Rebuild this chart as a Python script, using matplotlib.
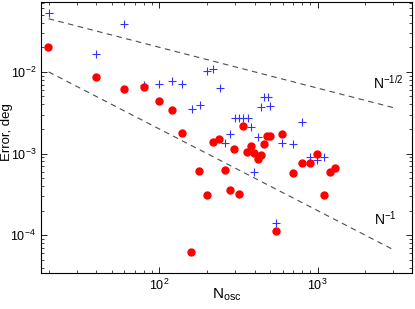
#!/usr/bin/env python
# error vs number of oscillations, log-log, with N^-1/2 and N^-1 guide lines
import numpy as np
import matplotlib
matplotlib.use("Agg")
import matplotlib.pyplot as plt

plt.rcParams['font.family'] = ['Liberation Sans', 'DejaVu Sans']
plt.rcParams['mathtext.fontset'] = 'custom'
plt.rcParams['mathtext.rm'] = 'Liberation Sans'
plt.rcParams['mathtext.default'] = 'regular'

# red circles
red_n = [19.8, 39.9, 59.9, 79.7, 100, 120, 140, 159, 179, 199, 219, 239, 259, 278,
         298, 317, 339, 358, 378, 398, 420, 438, 458, 481, 500, 545, 595, 701, 796,
         898, 994, 1096, 1191, 1292]
red_err = [0.0203, 0.00868, 0.00618, 0.00649, 0.00445, 0.00345, 0.0018, 6.3e-5, 6.1e-4,
           3.12e-4, 1.395e-3, 1.507e-3, 6.33e-4, 3.6e-4, 1.136e-3, 3.23e-4, 2.176e-3,
           1.058e-3, 1.236e-3, 1.029e-3, 8.68e-4, 9.72e-4, 1.319e-3, 1.639e-3, 1.663e-3,
           1.129e-4, 1.75e-3, 5.85e-4, 7.71e-4, 7.58e-4, 9.78e-4, 3.12e-4, 6.01e-4, 6.58e-4]

# blue crosses
blue_n = [20, 39.9, 59.9, 79.7, 100, 120, 140, 160, 180, 199, 219, 241, 260, 280, 301,
          319, 339, 362, 379, 398, 418, 441, 461, 482, 498, 545, 595, 696, 800, 897,
          994, 1088]
blue_err = [0.0519, 0.0166, 0.0388, 0.00693, 0.00718, 0.00769, 0.00707, 0.00349, 0.00397,
            0.0102, 0.0107, 0.00642, 1.365e-3, 1.72e-3, 2.69e-3, 2.69e-3, 2.69e-3, 2.69e-3,
            2.13e-3, 5.98e-4, 1.594e-3, 3.74e-3, 4.98e-3, 4.98e-3, 3.8e-3, 1.416e-4,
            1.365e-3, 1.3e-3, 2.42e-3, 9.19e-4, 8.44e-4, 9.19e-4]

# guide lines C*N^p
guide_n = np.array([20, 3000])
guide_c = 0.2

fig = plt.figure(figsize=(4.15, 3.09), dpi=100)
ax = fig.add_axes([0.0988, 0.1155, 0.894, 0.879])

ax.plot(guide_n, guide_c / np.sqrt(guide_n), ls=(0, (5, 4)), color='0.3', lw=0.8)
ax.plot(guide_n, guide_c / guide_n, ls=(0, (5, 4)), color='0.3', lw=0.8)

ax.plot(blue_n, blue_err, '+', color='#3333ff', ms=6, mew=0.8)
ax.plot(red_n, red_err, 'o', color='red', mec='red', ms=5)

ax.set_xscale('log')
ax.set_yscale('log')
ax.set_xlim(17.9, 3940)
ax.set_ylim(3.42e-5, 0.0723)

ax.tick_params(which='both', direction='in', top=True, right=True, labelsize=9)
ax.tick_params(which='major', length=4, width=0.6)
ax.tick_params(which='minor', length=2, width=0.5)
for s in ax.spines.values():
    s.set_linewidth(0.8)

ax.text(2780, 0.0073, r'$N^{-1/2}$', fontsize=10, ha='center', va='center')
ax.text(2660, 1.6e-4, r'$N^{-1}$', fontsize=10, ha='center', va='center')

ax.set_ylabel('Error, deg', fontsize=9.5)
ax.set_xlabel(r'$N_{osc}$', fontsize=11)
ax.yaxis.set_label_coords(-0.076, 0.52)
ax.xaxis.set_label_coords(0.5, -0.05)

plt.savefig('out.png', dpi=100)
